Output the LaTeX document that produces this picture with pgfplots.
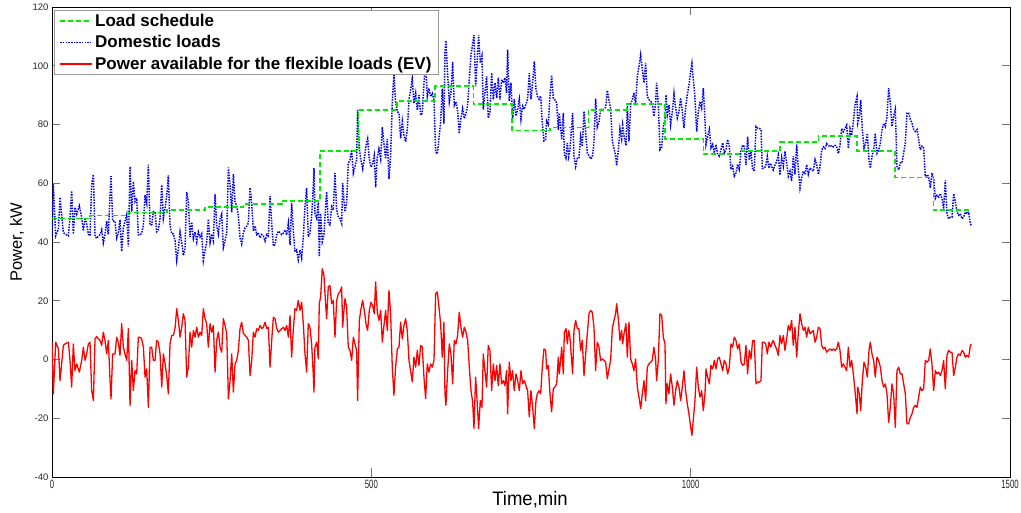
\documentclass[border=0pt]{standalone}
\usepackage{fontspec}
\setmainfont{Liberation Sans}
\usepackage{pgfplots}
\pgfplotsset{compat=1.18}
\definecolor{mgreen}{RGB}{0,235,0}
\begin{document}
\begin{tikzpicture}
\useasboundingbox (-52pt,-36pt) rectangle (969pt,477pt);
\begin{axis}[
  scale only axis, width=958pt, height=470pt,
  xmin=0, xmax=1500, ymin=-40, ymax=120,
  xtick={0,500,1000,1500}, ytick={-40,-20,0,20,40,60,80,100,120},
  /pgf/number format/assume math mode=true,
  /pgf/number format/set thousands separator={},
  tick align=inside, major tick length=8.5pt,
  tick style={draw=black!55, line width=0.8pt},
  axis line style={black, line width=0.8pt},
  xticklabel style={font=\fontsize{12}{13}\selectfont, xscale=0.65, text=black!85},
  yticklabel style={font=\fontsize{9.5}{10}\selectfont, text=black!85},
  xlabel={Time,min},
  xlabel style={font=\fontsize{19.5}{20}\selectfont, xscale=0.95, at={(axis description cs:0.499,-0.049)}, anchor=center},
  ylabel={Power, kW},
  ylabel style={font=\fontsize{16.5}{18}\selectfont, at={(axis description cs:-0.0365,0.5)}, anchor=center},
  legend style={at={(rel axis cs:0.002,0.994)}, anchor=north west, draw=gray!80, line width=1pt, fill=white,
    font=\fontsize{17}{21}\selectfont\bfseries, inner xsep=5pt, inner ysep=2pt, row sep=3.5pt},
  legend cell align=left,
  legend image code/.code={\draw[#1] (0pt,0pt) -- (32pt,0pt);},
  clip=true,
]
\addlegendimage{draw=mgreen, line width=1.7pt, dash pattern=on 5pt off 3pt}
\addlegendentry{Load schedule}
\addlegendimage{draw=blue, line width=1.5pt, dash pattern=on 1.5pt off 1.2pt}
\addlegendentry{Domestic loads}
\addlegendimage{draw=red, line width=1.3pt}
\addlegendentry{Power available for the flexible loads (EV)}
\addplot[forget plot, color=blue, line width=1.5pt, dash pattern=on 1.5pt off 1.2pt] coordinates {
(0,42.1)(2.1,59.7)(5.8,42.1)(10,44.4)(12.6,55.2)(17.8,43.2)(20.4,42.7)(25.6,42.1)(28.2,48.3)(30.8,57.4)(33.4,42.7)(36,51.8)(38.7,49.5)(42.8,52.3)(46.5,48.3)(49.1,43.8)(51.7,48.3)(54.3,46.1)(56.9,42.7)(59.5,42.1)(62.1,59.6)(64.8,63)(67.4,42)(70,41.2)(72.6,42)(75.2,42.5)(77.8,44.2)(80.4,39.7)(83,42.5)(85.6,47.1)(88.2,42.5)(90.9,56.2)(92.4,62.4)(95,47.1)(98.7,47.1)(101.3,41.4)(103.9,43.1)(106.5,47.6)(109.1,36.8)(111.7,44.8)(114.3,47.1)(117,49.3)(119.6,38.5)(122.2,65.7)(124.8,50.3)(127.4,60.6)(130,53.8)(132.6,54.9)(135.2,42.4)(137.8,42.4)(140.4,43)(143.1,45.8)(145.7,56)(148.3,53.2)(150.9,66.3)(153.5,45.8)(156.1,45.8)(158.7,50.3)(161.3,50.3)(163.9,43.5)(166.5,44.1)(169.2,48.1)(171.8,59.4)(174.4,48.1)(177,51.5)(179.6,55.5)(182.2,62.7)(184.8,45.7)(187.4,42.8)(190,42.8)(192.6,40.5)(195.3,33.7)(197.9,37.7)(200.5,43.4)(203.1,40)(205.7,35.4)(208.3,37.7)(210.9,57)(213.5,53.6)(216.1,41.7)(218.7,46.8)(221.4,41.1)(224,43.4)(226.6,40)(229.2,43.4)(231.8,41.7)(234.4,42.8)(237,33.7)(239.6,37.1)(242.2,39.8)(244.8,47.8)(247.5,39.8)(250.1,42.7)(252.7,40.4)(255.3,56.3)(257.9,45.5)(260.5,42.7)(263.1,47.8)(265.7,49.5)(268.3,38.1)(270.9,40.4)(273.6,43.2)(276.2,65.4)(278.8,59.2)(281.4,50.1)(284,63.1)(286.6,53.5)(289.2,52.3)(291.8,48.9)(294.4,41.5)(297,39.3)(299.7,43.2)(302.3,44.8)(304.9,45.4)(307.5,46.5)(310.1,58.5)(312.7,53.3)(315.3,43.7)(317.9,45.4)(320.5,42.5)(323.1,43.1)(325.8,41.4)(328.4,42.5)(331,42)(333.6,40.3)(336.2,42.5)(338.8,42)(341.4,55.6)(344,46.5)(346.6,38.6)(349.2,39.1)(351.9,42.5)(354.5,43.7)(357.1,43.1)(359.7,42.5)(362.3,43)(364.9,44.1)(367.5,42.4)(370.1,46.4)(372.7,39)
(375.2,53.2)(377.8,44.1)(380.4,36.7)(383,37.3)(385.6,33.9)(388.3,37.3)(390.9,34.5)(393.5,41.8)(396.1,52.1)(398.7,58.3)(401.3,41.8)(403.9,43)(406.5,48.7)(409.1,58.9)(410.2,65.1)(411.7,49.8)(414.4,48.1)(417,53.8)(418.5,35)(420.6,49.7)(423.2,40.1)(425.8,42.4)(428.4,52)(430,57.1)(432.6,46.3)(435.2,45.8)(437.8,52)(440.4,50.9)(443.1,63.4)(445.7,50.9)(448.3,48.6)(450.9,48)(453.5,46.3)(455.1,60)(457.1,54.3)(458.7,50.3)(461.3,53.2)(463.9,66.8)(466.5,67.9)(469.2,71.3)(471.8,63.4)(474.4,65.7)(477,67.9)(478.5,85)(481.2,71.7)(483.8,67.7)(486.4,64.9)(489,68.3)(491.6,72.8)(494.2,75.1)(496.8,68.3)(499.4,65.5)(502,66.6)(504.6,69.4)(506.7,58.6)(509.3,68.9)(511.9,71.7)(514.6,68.3)(517.2,79.1)(519.8,73.4)(522.4,68.3)(525,75.1)(527.6,61.5)(530.2,69.4)(532.8,87.6)(535.4,97.2)(538,87.6)(540.7,84.4)(543.3,83.8)(545.9,75.3)(548.5,81)(551.1,76.4)(553.7,74.1)(556.3,78.1)(558.9,88.3)(561.5,91.8)(564.1,95.6)(566.7,87.2)(569.4,90.6)(572,84.9)(574.6,90)(577.2,83.2)(579.8,83.8)(582.4,94)(585,101.3)(587.6,89.5)(590.2,92.3)(592.8,89.5)(595.5,90.6)(598.1,88.3)(600.7,70.6)(603.3,70)(605.9,75.2)(608.5,80.8)(611.1,92.2)(613.7,80.3)(615.3,104.7)(616.8,108.6)(619.5,96.8)(622.1,87.7)(624.7,91.1)(627.3,101.3)(629.9,86.5)(632.5,87.7)(635.1,84.8)(637.7,76.9)(640.3,82)(642.9,85.4)(645.6,82)(648.2,83.7)(650.8,86.5)(653.4,95.6)(656,103.6)(658.6,107.4)(660.7,110.5)(663.3,93)(665.9,102.1)(668,110.5)(670.6,101)(673.2,103.3)(675.3,85.1)(677.9,90.8)(680.5,96.4)(683.1,82.2)(685.7,83.9)(688.4,97.6)(691,88.5)(693.6,94.2)(696.2,89)(698.8,95.9)(701.4,88.5)(704,95.3)(706.6,94.2)(709.2,95.9)(711.8,90.8)(713.4,105.5)(716,87.9)(718.6,94.2)(721.2,81.8)(723.8,88.6)(726.5,82.9)(729.1,85.2)(731.7,88.6)(734.3,81.8)(736.9,86.3)(739.5,85.2)(742.1,86.9)(744.7,88.6)(747.3,97.5)(749.9,88.6)(752.6,94.3)
(755.2,101.5)(757.8,92)(759.9,89.7)(762.5,88.6)(765.1,89.7)(767.7,80.6)(770.3,74.4)(772.9,74.9)(774.5,81.2)(777.1,80)(779.7,89.7)(782.3,96.8)(784.9,88.9)(787.5,88.4)(790.2,87.3)(792.8,78.2)(794.3,83.9)(796.4,79.3)(798,74.8)(800.6,83.9)(802.2,69.7)(804.8,68.5)(806.9,73.7)(809,69.1)(811,71.4)(813.6,79.3)(815.2,83.9)(817.3,69.1)(819.9,65.7)(822.5,68.5)(825.1,68.5)(827.7,75.9)(830.3,72.5)(833,84.5)(835.6,77.1)(838.2,70.2)(840.8,69.4)(843.4,68.3)(846,68.9)(848.6,74)(851.2,88.8)(853.8,79.1)(856.4,80.8)(859,85.3)(861.7,84.8)(864.3,85.3)(866.9,85.9)(869.5,91.6)(872.1,88.2)(874.7,85.3)(877.3,74.5)(879.9,71.7)(882.5,69.4)(884.1,66)(886.7,71.1)(889.3,78.5)(891.9,75.1)(893.5,79.7)(895.6,76.2)(898.7,72.8)(900.8,86.2)(903.4,74.3)(906,86.8)(908.6,88.5)(911.2,90.8)(913.8,86.8)(916.5,96.4)(919.1,99.8)(921.7,103.7)(924.3,98.7)(926.9,94.2)(929.5,101)(932.1,89.6)(934.7,88.5)(937.3,87.9)(939.9,87.3)(942.5,82.8)(945.2,87.3)(946.7,94.2)(949.3,87.3)(951.9,71.4)(954.6,72)(957.2,79.4)(959.8,81.7)(961.3,90.1)(963.4,83.3)(966,86.7)(968.6,79.9)(971.3,84.4)(973.9,90.6)(976.5,85.5)(979.1,82.2)(981.7,84.4)(984.3,89)(986.9,84.4)(989.5,78.8)(992.1,85.6)(994.7,90.1)(997.3,93.5)(1000,98)(1002,100.8)(1004.1,95.6)(1006.7,89)(1009.4,77.6)(1012,84.4)(1014.6,87.8)(1017.2,85.6)(1019.8,92.4)(1022.4,81.7)(1024,73.2)(1026.6,76)(1029.2,78.3)(1031.8,72)(1034.4,73.2)(1037,70.3)(1039.6,73.2)(1042.2,69.8)(1044.8,69.2)(1047.5,71.5)(1050.1,73.8)(1052.7,70.3)(1055.3,71.5)(1057.9,74.9)(1060.5,72.6)(1063.1,64.7)(1065.7,65.8)(1068.3,62.4)(1070.9,63.5)(1073.5,66.4)(1076.2,64.7)(1078.8,70.9)(1081.4,73)(1084,72.5)(1086.6,66.2)(1089.2,75.9)(1091.8,67.9)(1094.4,70.8)(1097,64.5)(1099.6,64.5)(1102.3,79.3)(1104.9,78.7)(1107.5,78.7)(1110.1,78.2)(1112.2,65.1)(1114.8,65.1)(1117.4,65.7)(1120,69.1)(1122.6,65.1)(1125.2,66.8)(1127.8,65.1)
(1129.4,64.5)(1132,66.2)(1134.6,67.4)(1137.2,69.6)(1139.9,62.8)(1142.5,68.7)(1145.1,65.8)(1147.7,70.9)(1150.3,67)(1152.9,62.4)(1155.5,64.1)(1158.1,60.7)(1160.7,69.2)(1163.3,63)(1166,73.2)(1168.6,64.7)(1171.2,58.4)(1173.8,61.8)(1176.4,64.1)(1179,63)(1181.6,66.4)(1184.2,63)(1186.8,65.2)(1189.4,64.7)(1192,64.1)(1194.7,68.1)(1197.3,66.4)(1199.9,63)(1202.5,65.5)(1205.1,71.2)(1207.7,72.4)(1210.3,71.8)(1212.9,73.5)(1215.5,72.9)(1218.1,72.4)(1220.8,72.9)(1223.4,72.4)(1226,72.9)(1228.6,72.4)(1231.2,70.1)(1233.8,72.9)(1236.4,78.6)(1239,77.5)(1241.6,78.6)(1244.2,79.8)(1246.9,71.8)(1249.5,78.6)(1252.1,76.3)(1254.7,80.9)(1257.3,86.6)(1260.5,89.5)(1261.5,80.4)(1264.1,82.7)(1266.2,88.4)(1268.8,78.2)(1271.4,71.9)(1274,73.6)(1276.6,77)(1279.2,67.9)(1281.3,65.1)(1283.9,69.1)(1286.5,71.3)(1289.1,77)(1291.7,70.2)(1294.3,71.3)(1297,73.6)(1299.6,78.2)(1302.2,80.4)(1304.8,79.3)(1307.4,82.7)(1310,92.4)(1312.6,87.3)(1315.2,79.3)(1317.8,82.7)(1320.4,85.1)(1323,65.8)(1325.7,64.6)(1328.3,66.9)(1330.9,66.9)(1333.5,70.3)(1336.1,73.7)(1338.7,83.9)(1341.3,83.9)(1343.9,81.7)(1346.5,80.5)(1349.1,78.3)(1351.8,77.6)(1354.4,78.3)(1357,74.8)(1359.6,71.4)(1362.2,72.6)(1364.8,72)(1367.4,62.3)(1370,62.9)(1372.6,62.3)(1375.2,58.4)(1377.8,63.5)(1380.5,61.6)(1383.1,54.8)(1385.7,55.9)(1388.3,55.3)(1390.9,56.5)(1393.5,54.8)(1396.1,51.3)(1398.7,61)(1401.3,49.6)(1403.9,47.9)(1406.6,48.5)(1409.2,48.5)(1411.8,56.5)(1414.4,53.6)(1417,50.2)(1419.6,49.1)(1422.2,49.6)(1424.8,47.9)(1427.4,48.5)(1430,50.2)(1432.6,49.6)(1435.3,50.2)(1437.9,46.2)(1439.4,45.7)};
\addplot[forget plot, const plot, draw=mgreen, line width=1.7pt, dash pattern=on 5pt off 3pt] coordinates {
(0,48)(60,49)(120,50)(180,51)(240,52)(300,53)(360,54)(420,71)(480,85)(540,88)(600,93)(660,87)(720,78)(780,79)(840,85)(900,87)(960,75)(1020,70)(1080,71)(1140,74)(1200,76)(1260,71)(1320,62)(1380,51)(1440,51)};
\addplot[forget plot, color=red, line width=1.3pt, line join=round] coordinates {
(0,5.9)(2.1,-11.7)(5.8,5.9)(10,3.6)(12.6,-7.2)(17.8,4.8)(20.4,5.3)(25.6,5.9)(28.2,-0.3)(30.8,-9.4)(33.4,5.3)(36,-3.8)(38.7,-1.5)(42.8,-4.3)(46.5,-0.3)(49.1,4.2)(51.7,-0.3)(54.3,1.9)(56.9,5.3)(59.5,5.9)(62.1,-10.6)(64.8,-14)(67.4,7)(70,7.8)(72.6,7)(75.2,6.5)(77.8,4.8)(80.4,9.3)(83,6.5)(85.6,1.9)(88.2,6.5)(90.9,-7.2)(92.4,-13.4)(95,1.9)(98.7,1.9)(101.3,7.6)(103.9,5.9)(106.5,1.4)(109.1,12.2)(111.7,4.2)(114.3,1.9)(117,-0.3)(119.6,10.5)(122.2,-15.7)(124.8,-0.3)(127.4,-10.6)(130,-3.8)(132.6,-4.9)(135.2,7.6)(137.8,7.6)(140.4,7)(143.1,4.2)(145.7,-6)(148.3,-3.2)(150.9,-16.3)(153.5,4.2)(156.1,4.2)(158.7,-0.3)(161.3,-0.3)(163.9,6.5)(166.5,5.9)(169.2,1.9)(171.8,-9.4)(174.4,1.9)(177,-1.5)(179.6,-5.5)(182.2,-11.7)(184.8,5.3)(187.4,8.2)(190,8.2)(192.6,10.5)(195.3,17.3)(197.9,13.3)(200.5,7.6)(203.1,11)(205.7,15.6)(208.3,13.3)(210.9,-6)(213.5,-2.6)(216.1,9.3)(218.7,4.2)(221.4,9.9)(224,7.6)(226.6,11)(229.2,7.6)(231.8,9.3)(234.4,8.2)(237,17.3)(239.6,13.9)(242.2,12.2)(244.8,4.2)(247.5,12.2)(250.1,9.3)(252.7,11.6)(255.3,-4.3)(257.9,6.5)(260.5,9.3)(263.1,4.2)(265.7,2.5)(268.3,13.9)(270.9,11.6)(273.6,8.8)(276.2,-13.4)(278.8,-7.2)(281.4,1.9)(284,-11.1)(286.6,-1.5)(289.2,-0.3)(291.8,3.1)(294.4,10.5)(297,12.7)(299.7,8.8)(302.3,8.2)(304.9,7.6)(307.5,6.5)(310.1,-5.5)(312.7,-0.3)(315.3,9.3)(317.9,7.6)(320.5,10.5)(323.1,9.9)(325.8,11.6)(328.4,10.5)(331,11)(333.6,12.7)(336.2,10.5)(338.8,11)(341.4,-2.6)(344,6.5)(346.6,14.4)(349.2,13.9)(351.9,10.5)(354.5,9.3)(357.1,9.9)(359.7,10.5)(362.3,11)(364.9,9.9)(367.5,11.6)(370.1,7.6)(372.7,15)
(375.2,0.8)(377.8,9.9)(380.4,17.3)(383,16.7)(385.6,20.1)(388.3,16.7)(390.9,19.5)(393.5,12.2)(396.1,1.9)(398.7,-4.3)(401.3,12.2)(403.9,11)(406.5,5.3)(409.1,-4.9)(410.2,-11.1)(411.7,4.2)(414.4,5.9)(417,0.2)(418.5,19)(420.6,21.3)(423.2,30.9)(425.8,28.6)(428.4,19)(430,13.9)(432.6,24.7)(435.2,25.2)(437.8,19)(440.4,20.1)(443.1,7.6)(445.7,20.1)(448.3,22.4)(450.9,23)(453.5,24.7)(455.1,11)(457.1,16.7)(458.7,20.7)(461.3,17.8)(463.9,4.2)(466.5,3.1)(469.2,-0.3)(471.8,7.6)(474.4,5.3)(477,3.1)(478.5,-14)(481.2,13.3)(483.8,17.3)(486.4,20.1)(489,16.7)(491.6,12.2)(494.2,9.9)(496.8,16.7)(499.4,19.5)(502,18.4)(504.6,15.6)(506.7,26.4)(509.3,16.1)(511.9,13.3)(514.6,16.7)(517.2,5.9)(519.8,11.6)(522.4,16.7)(525,9.9)(527.6,23.5)(530.2,15.6)(532.8,-2.6)(535.4,-12.2)(538,-2.6)(540.7,3.6)(543.3,4.2)(545.9,12.7)(548.5,7)(551.1,11.6)(553.7,13.9)(556.3,9.9)(558.9,-0.3)(561.5,-3.8)(564.1,-7.6)(566.7,0.8)(569.4,-2.6)(572,3.1)(574.6,-2)(577.2,4.8)(579.8,4.2)(582.4,-6)(585,-13.3)(587.6,-1.5)(590.2,-4.3)(592.8,-1.5)(595.5,-2.6)(598.1,-0.3)(600.7,22.4)(603.3,23)(605.9,17.8)(608.5,12.2)(611.1,0.8)(613.7,12.7)(615.3,-11.7)(616.8,-15.6)(619.5,-3.8)(622.1,5.3)(624.7,1.9)(627.3,-8.3)(629.9,6.5)(632.5,5.3)(635.1,8.2)(637.7,16.1)(640.3,11)(642.9,7.6)(645.6,11)(648.2,9.3)(650.8,6.5)(653.4,-2.6)(656,-10.6)(658.6,-14.4)(660.7,-23.5)(663.3,-6)(665.9,-15.1)(668,-23.5)(670.6,-14)(673.2,-16.3)(675.3,1.9)(677.9,-3.8)(680.5,-9.4)(683.1,4.8)(685.7,3.1)(688.4,-10.6)(691,-1.5)(693.6,-7.2)(696.2,-2)(698.8,-8.9)(701.4,-1.5)(704,-8.3)(706.6,-7.2)(709.2,-8.9)(711.8,-3.8)(713.4,-18.5)(716,-0.9)(718.6,-7.2)(721.2,-3.8)(723.8,-10.6)(726.5,-4.9)(729.1,-7.2)(731.7,-10.6)(734.3,-3.8)(736.9,-8.3)(739.5,-7.2)(742.1,-8.9)(744.7,-10.6)(747.3,-19.5)(749.9,-10.6)(752.6,-16.3)
(755.2,-23.5)(757.8,-14)(759.9,-11.7)(762.5,-10.6)(765.1,-11.7)(767.7,-2.6)(770.3,3.6)(772.9,3.1)(774.5,-3.2)(777.1,-2)(779.7,-11.7)(782.3,-17.8)(784.9,-9.9)(787.5,-9.4)(790.2,-8.3)(792.8,0.8)(794.3,-4.9)(796.4,-0.3)(798,4.2)(800.6,-4.9)(802.2,9.3)(804.8,10.5)(806.9,5.3)(809,9.9)(811,7.6)(813.6,-0.3)(815.2,-4.9)(817.3,9.9)(819.9,13.3)(822.5,10.5)(825.1,10.5)(827.7,3.1)(830.3,6.5)(833,-5.5)(835.6,1.9)(838.2,8.8)(840.8,15.6)(843.4,16.7)(846,16.1)(848.6,11)(851.2,-3.8)(853.8,5.9)(856.4,4.2)(859,-0.3)(861.7,0.2)(864.3,-0.3)(866.9,-0.9)(869.5,-6.6)(872.1,-3.2)(874.7,-0.3)(877.3,10.5)(879.9,13.3)(882.5,15.6)(884.1,19)(886.7,13.9)(889.3,6.5)(891.9,9.9)(893.5,5.3)(895.6,8.8)(898.7,12.2)(900.8,0.8)(903.4,12.7)(906,0.2)(908.6,-1.5)(911.2,-3.8)(913.8,0.2)(916.5,-9.4)(919.1,-12.8)(921.7,-16.7)(924.3,-11.7)(926.9,-7.2)(929.5,-14)(932.1,-2.6)(934.7,-1.5)(937.3,-0.9)(939.9,-0.3)(942.5,4.2)(945.2,-0.3)(946.7,-7.2)(949.3,-0.3)(951.9,15.6)(954.6,15)(957.2,7.6)(959.8,5.3)(961.3,-15.1)(963.4,-8.3)(966,-11.7)(968.6,-4.9)(971.3,-9.4)(973.9,-15.6)(976.5,-10.5)(979.1,-7.2)(981.7,-9.4)(984.3,-14)(986.9,-9.4)(989.5,-3.8)(992.1,-10.6)(994.7,-15.1)(997.3,-18.5)(1000,-23)(1002,-25.8)(1004.1,-20.6)(1006.7,-14)(1009.4,-2.6)(1012,-9.4)(1014.6,-12.8)(1017.2,-10.6)(1019.8,-17.4)(1022.4,-11.7)(1024,-3.2)(1026.6,-6)(1029.2,-8.3)(1031.8,-2)(1034.4,-3.2)(1037,-0.3)(1039.6,-3.2)(1042.2,0.2)(1044.8,0.8)(1047.5,-1.5)(1050.1,-3.8)(1052.7,-0.3)(1055.3,-1.5)(1057.9,-4.9)(1060.5,-2.6)(1063.1,5.3)(1065.7,4.2)(1068.3,7.6)(1070.9,6.5)(1073.5,3.6)(1076.2,5.3)(1078.8,-0.9)(1081.4,-2)(1084,-1.5)(1086.6,4.8)(1089.2,-4.9)(1091.8,3.1)(1094.4,0.2)(1097,6.5)(1099.6,6.5)(1102.3,-8.3)(1104.9,-7.7)(1107.5,-7.7)(1110.1,-7.2)(1112.2,5.9)(1114.8,5.9)(1117.4,5.3)(1120,1.9)(1122.6,5.9)(1125.2,4.2)(1127.8,5.9)
(1129.4,6.5)(1132,4.8)(1134.6,3.6)(1137.2,1.4)(1139.9,8.2)(1142.5,5.3)(1145.1,8.2)(1147.7,3.1)(1150.3,7)(1152.9,11.6)(1155.5,9.9)(1158.1,13.3)(1160.7,4.8)(1163.3,11)(1166,0.8)(1168.6,9.3)(1171.2,15.6)(1173.8,12.2)(1176.4,9.9)(1179,11)(1181.6,7.6)(1184.2,11)(1186.8,8.8)(1189.4,9.3)(1192,9.9)(1194.7,5.9)(1197.3,7.6)(1199.9,11)(1202.5,10.5)(1205.1,4.8)(1207.7,3.6)(1210.3,4.2)(1212.9,2.5)(1215.5,3.1)(1218.1,3.6)(1220.8,3.1)(1223.4,3.6)(1226,3.1)(1228.6,3.6)(1231.2,5.9)(1233.8,3.1)(1236.4,-2.6)(1239,-1.5)(1241.6,-2.6)(1244.2,-3.8)(1246.9,4.2)(1249.5,-2.6)(1252.1,-0.3)(1254.7,-4.9)(1257.3,-10.6)(1260.5,-18.5)(1261.5,-9.4)(1264.1,-11.7)(1266.2,-17.4)(1268.8,-7.2)(1271.4,-0.9)(1274,-2.6)(1276.6,-6)(1279.2,3.1)(1281.3,5.9)(1283.9,1.9)(1286.5,-0.3)(1289.1,-6)(1291.7,0.8)(1294.3,-0.3)(1297,-2.6)(1299.6,-7.2)(1302.2,-9.4)(1304.8,-8.3)(1307.4,-11.7)(1310,-21.4)(1312.6,-16.3)(1315.2,-8.3)(1317.8,-11.7)(1320.4,-23.1)(1323,-3.8)(1325.7,-2.6)(1328.3,-4.9)(1330.9,-4.9)(1333.5,-8.3)(1336.1,-11.7)(1338.7,-21.9)(1341.3,-21.9)(1343.9,-19.7)(1346.5,-18.5)(1349.1,-16.3)(1351.8,-15.6)(1354.4,-16.3)(1357,-12.8)(1359.6,-9.4)(1362.2,-10.6)(1364.8,-10)(1367.4,-0.3)(1370,-0.9)(1372.6,-0.3)(1375.2,3.6)(1377.8,-1.5)(1380.5,-10.6)(1383.1,-3.8)(1385.7,-4.9)(1388.3,-4.3)(1390.9,-5.5)(1393.5,-3.8)(1396.1,-0.3)(1398.7,-10)(1401.3,1.4)(1403.9,3.1)(1406.6,2.5)(1409.2,2.5)(1411.8,-5.5)(1414.4,-2.6)(1417,0.8)(1419.6,1.9)(1422.2,1.4)(1424.8,3.1)(1427.4,2.5)(1430,0.8)(1432.6,1.4)(1435.3,0.8)(1437.9,4.8)(1439.4,5.3)};
\end{axis}
\end{tikzpicture}
\end{document}
